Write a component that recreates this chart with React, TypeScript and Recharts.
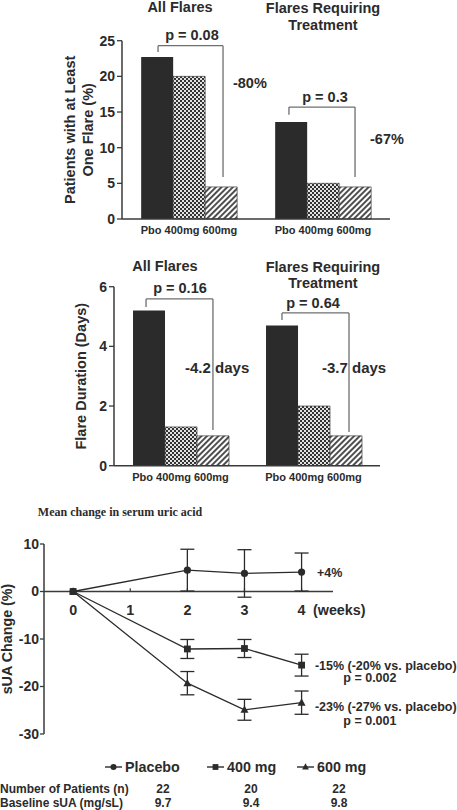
import React from 'react';
import {
  BarChart, Bar, XAxis, YAxis, ReferenceLine, ReferenceDot, Label,
  LineChart, Line, ErrorBar, Legend,
} from 'recharts';

// ---------- data ----------
const flareGroups = ['all', 'treated'];
const groupTickLabel = 'Pbo 400mg 600mg';

const patientsPbo = [22.7, 13.6];
const patients400 = [20.0, 5.0];
const patients600 = [4.5, 4.5];
const patientsTicks = [0, 5, 10, 15, 20, 25];

const durationPbo = [5.2, 4.7];
const duration400 = [1.3, 2.0];
const duration600 = [1.0, 1.0];
const durationTicks = [0, 2, 4, 6];

const weeks = [0, 2, 3, 4];
const placeboMean = [0, 4.5, 3.8, 4.1];
const placeboErr = [0, 4.4, 5.0, 4.0];
const mg400Mean = [0, -12.1, -12.0, -15.5];
const mg400Err = [0, 2.0, 1.9, 2.3];
const mg600Mean = [0, -19.3, -24.9, -23.4];
const mg600Err = [0, 2.45, 2.2, 2.45];
const weekTicks = [0, 1, 2, 3, 4];
const suaTicks = [-30, -20, -10, 0, 10];

const seriesOrder = ['placebo', 'mg400', 'mg600'];
const seriesNames = ['Placebo', '400 mg', '600 mg'];

const patientsN = ['22', '20', '22'];
const baselineSUA = ['9.7', '9.4', '9.8'];

// ---------- annotations (data units) ----------
const topTitles = [
  { x: 0.433, y: 29.7, lines: ['All Flares'] },
  { x: 1.5, y: 29.6, lines: ['Flares Requiring', 'Treatment'] },
];
const topPValues = [
  { x: 0.522, y: 25.8, text: 'p = 0.08' },
  { x: 1.515, y: 17.1, text: 'p = 0.3' },
];
const topReductions = [
  { x: 0.828, y: 19.1, text: '-80%' },
  { x: 1.851, y: 11.2, text: '-67%' },
];
const topBrackets = [
  { x1: 0.269, x2: 0.754, top: 24.3, leftEnd: 23.4, rightEnd: 5.9 },
  { x1: 1.246, x2: 1.739, top: 15.7, leftEnd: 14.6, rightEnd: 5.9 },
];

const midTitles = [
  { x: 0.383, y: 6.69, lines: ['All Flares'] },
  { x: 1.571, y: 6.66, lines: ['Flares Requiring', 'Treatment'] },
];
const midPValues = [
  { x: 0.496, y: 5.96, text: 'p = 0.16' },
  { x: 1.496, y: 5.45, text: 'p = 0.64' },
];
const midReductions = [
  { x: 0.534, y: 3.27, text: '-4.2 days' },
  { x: 1.564, y: 3.27, text: '-3.7 days' },
];
const midBrackets = [
  { x1: 0.241, x2: 0.744, top: 5.59, leftEnd: 5.32, rightEnd: 1.2 },
  { x1: 1.263, x2: 1.767, top: 5.12, leftEnd: 4.88, rightEnd: 1.13 },
];

const suaNotes = [
  { x: 4.27, y: 3.9, text: '+4%', anchor: 'start' },
  { x: 4.233, y: -15.6, text: '-15% (-20% vs. placebo)', anchor: 'start' },
  { x: 5.196, y: -18.2, text: 'p = 0.002', anchor: 'middle' },
  { x: 4.233, y: -24.3, text: '-23% (-27% vs. placebo)', anchor: 'start' },
  { x: 5.196, y: -27.2, text: 'p = 0.001', anchor: 'middle' },
];
const weekLabelY = -3.9;
const weeksUnitLabel = { x: 4.2, y: -3.9, text: '(weeks)' };
const suaTitle = { x: -0.618, y: 16.7, text: 'Mean change in serum uric acid' };

// ---------- styles ----------
const SANS = '"Liberation Sans", Arial, Helvetica, sans-serif';
const SERIF = '"Liberation Serif", "Times New Roman", serif';
const INK = '#2b2b2b';
const AXIS = '#3a3a3a';
const BRACKET = '#6e6e6e';

type Anchor = 'start' | 'middle' | 'end';

function textAt(lines: string[], anchor: Anchor, size: number, lh: number, family = SANS) {
  return (props: any) => {
    const vb = props.viewBox || {};
    const cx = (vb.x ?? 0) + (vb.width ?? 0) / 2;
    const cy = (vb.y ?? 0) + (vb.height ?? 0) / 2;
    return (
      <text textAnchor={anchor} fontFamily={family} fontSize={size} fontWeight={700} fill={INK}>
        {lines.map((l, i) => (
          <tspan key={i} x={cx} y={cy + i * lh + size * 0.35}>{l}</tspan>
        ))}
      </text>
    );
  };
}

function rotLabel(lines: string[], xs: number[], size: number) {
  return (props: any) => {
    const vb = props.viewBox || {};
    const cy = (vb.y ?? 0) + (vb.height ?? 0) / 2;
    return (
      <g>
        {lines.map((l, i) => (
          <text key={i} x={xs[i]} y={cy + size * 0.35} transform={`rotate(-90 ${xs[i]} ${cy})`}
            textAnchor="middle" fontFamily={SANS} fontSize={size} fontWeight={700} fill={INK}>{l}</text>
        ))}
      </g>
    );
  };
}

function note(key: string, axisId: any, x: number, y: number, lines: string[], anchor: Anchor, size: number, lh = 16, family = SANS) {
  return (
    <ReferenceDot key={key} xAxisId={axisId} x={x} y={y} r={0} fill="none" stroke="none"
      ifOverflow="visible" label={textAt(lines, anchor, size, lh, family)} />
  );
}

function bracket(key: string, axisId: any, b: { x1: number; x2: number; top: number; leftEnd: number; rightEnd: number }) {
  const common = { xAxisId: axisId, stroke: BRACKET, strokeWidth: 1.3, ifOverflow: 'visible' as const };
  return [
    <ReferenceLine key={key + 'l'} {...common} segment={[{ x: b.x1, y: b.leftEnd }, { x: b.x1, y: b.top }]} />,
    <ReferenceLine key={key + 't'} {...common} segment={[{ x: b.x1, y: b.top }, { x: b.x2, y: b.top }]} />,
    <ReferenceLine key={key + 'r'} {...common} segment={[{ x: b.x2, y: b.top }, { x: b.x2, y: b.rightEnd }]} />,
  ];
}

const tickStyle = (size: number) => ({ fontSize: size, fontWeight: 700, fill: INK, fontFamily: SANS });

const patientsRows = flareGroups.map((g, i) => ({ group: g, pos: i + 0.5, pbo: patientsPbo[i], mg400: patients400[i], mg600: patients600[i] }));
const durationRows = flareGroups.map((g, i) => ({ group: g, pos: i + 0.5, pbo: durationPbo[i], mg400: duration400[i], mg600: duration600[i] }));
const suaRows = weeks.map((w, i) => ({
  week: w,
  placebo: placeboMean[i], placeboErr: placeboErr[i],
  mg400: mg400Mean[i], mg400Err: mg400Err[i],
  mg600: mg600Mean[i], mg600Err: mg600Err[i],
}));

function marker(kind: string, cx: number, cy: number, s = 1) {
  if (kind === 'placebo') return <circle cx={cx} cy={cy} r={3.6 * s} fill={INK} />;
  if (kind === 'mg400') return <rect x={cx - 3.4 * s} y={cy - 3.4 * s} width={6.8 * s} height={6.8 * s} fill={INK} />;
  return <polygon points={`${cx},${cy - 4.3 * s} ${cx - 4 * s},${cy + 3 * s} ${cx + 4 * s},${cy + 3 * s}`} fill={INK} />;
}
const dotFor = (kind: string) => (p: any) => {
  if (p.cx == null || p.cy == null) return <g key={p.index} />;
  return <g key={`${kind}-${p.index}`}>{marker(kind, p.cx, p.cy)}</g>;
};

const legendSlots = [105, 207, 297];
const renderLegend = (props: any) => {
  const items = [...(props.payload || [])].sort(
    (a: any, b: any) => seriesOrder.indexOf(a.dataKey) - seriesOrder.indexOf(b.dataKey));
  return (
    <svg width={457} height={20} style={{ display: 'block' }}>
      {items.map((it: any, i: number) => {
        const x0 = legendSlots[i];
        const cy = 10;
        return (
          <g key={String(it.dataKey)}>
            <line x1={x0} x2={x0 + 17} y1={cy} y2={cy} stroke={INK} strokeWidth={1.4} />
            {marker(String(it.dataKey), x0 + 8.5, cy, 0.85)}
            <text x={x0 + 20} y={cy + 5.2} fontFamily={SANS} fontSize={14.3} fontWeight={700} fill={INK}>{it.value}</text>
          </g>
        );
      })}
    </svg>
  );
};

function FlareBars(props: {
  rows: any[]; ticks: number[]; domain: [number, number]; top: number; right: number; axisW: number; xH: number;
  height: number; yLabel: any; titles: any[]; pvals: any[]; reds: any[]; brackets: any[]; titleLh: number; redSize: number;
}) {
  const { rows, ticks, domain, top, right, axisW, xH, height, yLabel, titles, pvals, reds, brackets, titleLh, redSize } = props;
  return (
    <BarChart width={457} height={height} data={rows} margin={{ top, right, bottom: 0, left: 0 }}
      barCategoryGap="14.3%" barGap={0} style={{ fontFamily: SANS }}>
      <XAxis xAxisId="cat" dataKey="group" type="category" interval={0} height={xH}
        tickFormatter={() => groupTickLabel} tickLine={false} tickSize={5} tickMargin={2}
        axisLine={{ stroke: AXIS, strokeWidth: 1.5 }} tick={tickStyle(11)} />
      <XAxis xAxisId="num" dataKey="pos" type="number" domain={[0, 2]} allowDataOverflow hide height={0} />
      <YAxis domain={domain} ticks={ticks} interval={0} width={axisW} tickSize={5} tickMargin={2}
        axisLine={{ stroke: AXIS, strokeWidth: 1.5 }} tickLine={{ stroke: AXIS, strokeWidth: 1.3 }}
        tick={tickStyle(14)}>
        <Label content={yLabel} />
      </YAxis>
      <Bar xAxisId="cat" dataKey="pbo" fill={INK} isAnimationActive={false} />
      <Bar xAxisId="cat" dataKey="mg400" fill="url(#checker)" stroke="#444" strokeWidth={0.7} isAnimationActive={false} />
      <Bar xAxisId="cat" dataKey="mg600" fill="url(#hatch)" stroke="#444" strokeWidth={0.7} isAnimationActive={false} />
      {brackets.flatMap((b, i) => bracket('b' + i, 'num', b))}
      {titles.map((t, i) => note('t' + i, 'num', t.x, t.y, t.lines, 'middle', 14.5, titleLh))}
      {pvals.map((t, i) => note('p' + i, 'num', t.x, t.y, [t.text], 'middle', 14.5))}
      {reds.map((t, i) => note('r' + i, 'num', t.x, t.y, [t.text], 'start', redSize))}
    </BarChart>
  );
}

export default function App() {
  const cell = (left: number, top: number, text: string, center = true) => (
    <div key={`${left}-${top}`} style={{
      position: 'absolute', left: center ? left - 30 : left, top, width: center ? 60 : 200,
      textAlign: center ? 'center' : 'left', fontFamily: SANS, fontWeight: 700, fontSize: 12,
      lineHeight: '14px', color: INK, whiteSpace: 'nowrap',
    }}>{text}</div>
  );
  const colCenters = [163, 251, 339];
  return (
    <div style={{ position: 'absolute', left: 0, top: 0, width: 457, height: 810, background: '#fff', overflow: 'hidden' }}>
      <svg width={0} height={0} style={{ position: 'absolute' }}>
        <defs>
          <pattern id="checker" width="4" height="4" patternUnits="userSpaceOnUse">
            <rect width="4" height="4" fill="#e2e2e2" />
            <rect width="2" height="2" fill="#333" />
            <rect x="2" y="2" width="2" height="2" fill="#333" />
          </pattern>
          <pattern id="hatch" width="4" height="4" patternUnits="userSpaceOnUse" patternTransform="rotate(45)">
            <rect width="4" height="4" fill="#fff" />
            <line x1="1" y1="0" x2="1" y2="4" stroke="#222" strokeWidth="1.6" />
          </pattern>
        </defs>
      </svg>

      <div style={{ position: 'absolute', left: 0, top: 0 }}>
        <FlareBars rows={patientsRows} ticks={patientsTicks} domain={[0, 25]} top={40.7} right={67} axisW={122}
          xH={21} height={240} yLabel={rotLabel(['Patients with at Least', 'One Flare (%)'], [70, 88], 14.5)}
          titles={topTitles} pvals={topPValues} reds={topReductions} brackets={topBrackets} titleLh={17} redSize={14.5} />
      </div>

      <div style={{ position: 'absolute', left: 0, top: 240 }}>
        <FlareBars rows={durationRows} ticks={durationTicks} domain={[0, 6]} top={46.7} right={77} axisW={114}
          xH={24.3} height={250} yLabel={rotLabel(['Flare Duration (Days)'], [80.5], 14.5)}
          titles={midTitles} pvals={midPValues} reds={midReductions} brackets={midBrackets} titleLh={16} redSize={15} />
      </div>

      <div style={{ position: 'absolute', left: 0, top: 490 }}>
        <LineChart width={457} height={320} data={suaRows} margin={{ top: 54, right: 124, bottom: 76, left: 0 }}
          style={{ fontFamily: SANS }}>
          <XAxis dataKey="week" type="number" domain={[-0.51, 4.55]} allowDataOverflow hide height={0} />
          <YAxis domain={[-30, 10]} ticks={suaTicks} interval={0} width={44} tickSize={4} tickMargin={1}
            axisLine={{ stroke: AXIS, strokeWidth: 1.5 }} tickLine={{ stroke: AXIS, strokeWidth: 1.3 }}
            tick={tickStyle(14)}>
            <Label content={rotLabel(['sUA Change (%)'], [7], 14.3)} />
          </YAxis>
          <ReferenceLine y={0} stroke={AXIS} strokeWidth={1.5} />
          {weekTicks.filter((w) => w > 0).map((w) => (
            <ReferenceLine key={'wt' + w} stroke={AXIS} strokeWidth={1.2}
              segment={[{ x: w, y: 0 }, { x: w, y: 0.7 }]} />
          ))}
          {weekTicks.map((w) => note('wl' + w, 0, w, weekLabelY, [String(w)], 'middle', 14.3))}
          {note('wu', 0, weeksUnitLabel.x, weeksUnitLabel.y, [weeksUnitLabel.text], 'start', 14.3)}
          {note('title', 0, suaTitle.x, suaTitle.y, [suaTitle.text], 'start', 12, 14, SERIF)}
          {suaNotes.map((n, i) => note('sn' + i, 0, n.x, n.y, [n.text], n.anchor as Anchor, 12.5))}
          <Line dataKey="placebo" name={seriesNames[0]} stroke={INK} strokeWidth={1.3}
            dot={dotFor('placebo')} activeDot={false} isAnimationActive={false}>
            <ErrorBar dataKey="placeboErr" width={7} stroke={INK} strokeWidth={1.3} direction="y" />
          </Line>
          <Line dataKey="mg600" name={seriesNames[2]} stroke={INK} strokeWidth={1.3}
            dot={dotFor('mg600')} activeDot={false} isAnimationActive={false}>
            <ErrorBar dataKey="mg600Err" width={7} stroke={INK} strokeWidth={1.3} direction="y" />
          </Line>
          <Line dataKey="mg400" name={seriesNames[1]} stroke={INK} strokeWidth={1.3}
            dot={dotFor('mg400')} activeDot={false} isAnimationActive={false}>
            <ErrorBar dataKey="mg400Err" width={7} stroke={INK} strokeWidth={1.3} direction="y" />
          </Line>
          <Legend verticalAlign="middle" align="center" layout="horizontal" content={renderLegend}
            wrapperStyle={{ left: 0, top: 266.7, width: 457, height: 20 }} />
        </LineChart>
      </div>

      {cell(0, 782, 'Number of Patients (n)', false)}
      {cell(0, 796, 'Baseline sUA (mg/sL)', false)}
      {patientsN.map((v, i) => cell(colCenters[i], 782, v))}
      {baselineSUA.map((v, i) => cell(colCenters[i], 796, v))}
    </div>
  );
}
